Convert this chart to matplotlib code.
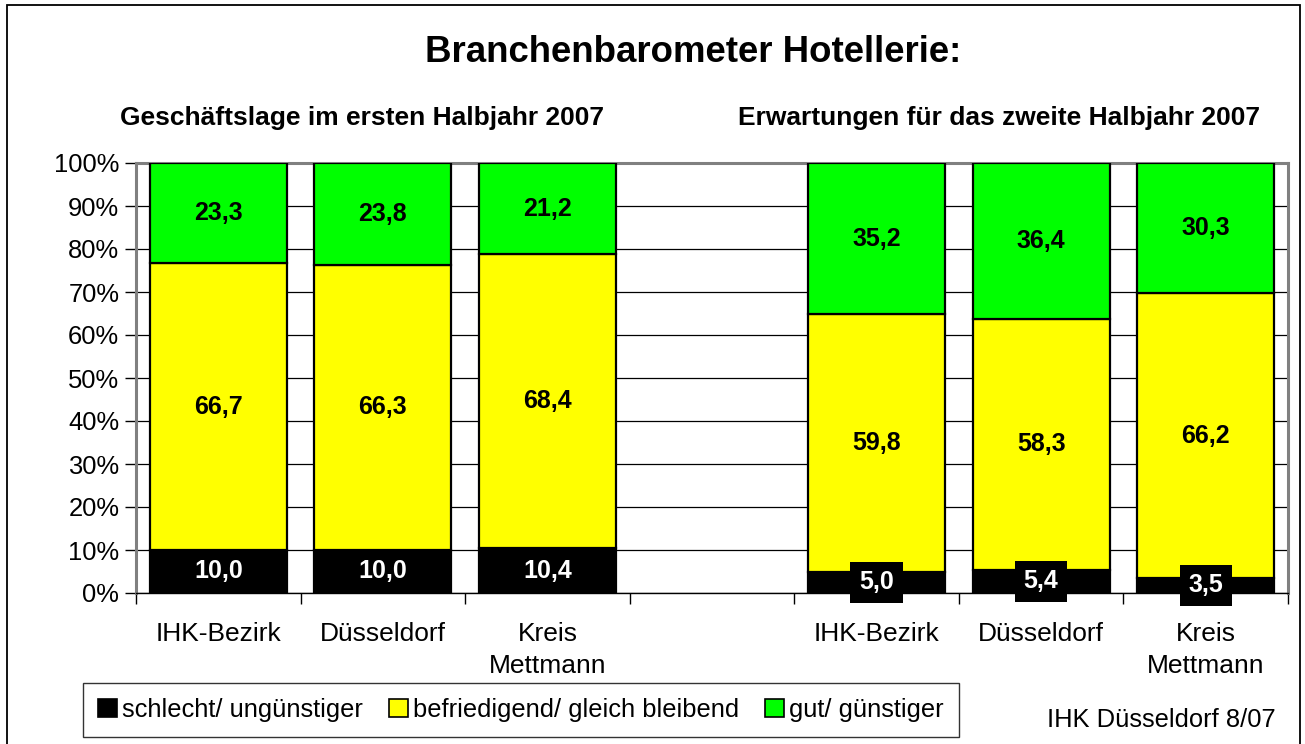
import matplotlib.pyplot as plt
from matplotlib.patches import Patch, Rectangle
from matplotlib.transforms import blended_transform_factory

plt.rcParams['font.family'] = ['Liberation Sans', 'DejaVu Sans']

# data (percent)
categories = ["IHK-Bezirk", "Düsseldorf", "Kreis\nMettmann",
              "IHK-Bezirk", "Düsseldorf", "Kreis\nMettmann"]
positions = [0, 1, 2, 4, 5, 6]
schlecht = [10.0, 10.0, 10.4, 5.0, 5.4, 3.5]
befriedigend = [66.7, 66.3, 68.4, 59.8, 58.3, 66.2]
gut = [23.3, 23.8, 21.2, 35.2, 36.4, 30.3]
series_names = ["schlecht/ ungünstiger", "befriedigend/ gleich bleibend", "gut/ günstiger"]
colors = ["#000000", "#FFFF00", "#00FF00"]
yticks = list(range(0, 101, 10))

W, H = 1305, 744
fig = plt.figure(figsize=(W / 100, H / 100), dpi=100)


def fx(x):
    return x / W


def fy(y):
    return 1 - y / H


ax = fig.add_axes([fx(136), fy(593), fx(1288) - fx(136), fy(163) - fy(593)])

bar_w = 0.833
bottoms = [0] * len(positions)
for vals, col in zip([schlecht, befriedigend, gut], colors):
    ax.bar(positions, vals, width=bar_w, bottom=bottoms, color=col,
           edgecolor="black", linewidth=1.6, zorder=3)
    for p, v, b in zip(positions, vals, bottoms):
        label = f"{v:.1f}".replace(".", ",")
        if col == "#000000":
            ax.text(p, b + v / 2, label, ha="center", va="center", fontsize=18,
                    fontweight="bold", color="white", zorder=5,
                    bbox=dict(boxstyle="square,pad=0.35", fc="black", ec="none"))
        else:
            ax.text(p, b + v / 2, label, ha="center", va="center", fontsize=18,
                    fontweight="bold", color="black", zorder=5)
    bottoms = [b + v for b, v in zip(bottoms, vals)]

ax.set_xlim(-0.5, 6.5)
ax.set_ylim(0, 100)
ax.set_yticks(yticks)
ax.set_yticklabels([f"{t}%" for t in yticks], fontsize=18.4)
ax.set_xticks([i - 0.5 for i in range(8)])
ax.set_xticklabels([])
ax.tick_params(axis="both", direction="out", length=8, width=1, color="black")
ax.tick_params(axis="y", pad=4)
ax.yaxis.grid(True, color="black", linewidth=0.9, zorder=0)
ax.set_axisbelow(True)
for s in ["left", "top", "right"]:
    ax.spines[s].set_color("#808080")
    ax.spines[s].set_linewidth(2.2)
ax.spines["bottom"].set_color("black")
ax.spines["bottom"].set_linewidth(1)

trans = blended_transform_factory(ax.transData, ax.transAxes)
for p, c in zip(positions, categories):
    ax.text(p, -0.068, c, transform=trans, ha="center", va="top",
            fontsize=19, linespacing=1.4)

fig.text(fx(693), fy(52), "Branchenbarometer Hotellerie:", ha="center",
         va="center", fontsize=26.4, fontweight="bold")
fig.text(fx(362), fy(118), "Geschäftslage im ersten Halbjahr 2007", ha="center",
         va="center", fontsize=19, fontweight="bold")
fig.text(fx(999), fy(118), "Erwartungen für das zweite Halbjahr 2007", ha="center",
         va="center", fontsize=19, fontweight="bold")
fig.text(fx(1276), fy(720), "IHK Düsseldorf 8/07", ha="right", va="center",
         fontsize=18.4)

handles = [Patch(facecolor=c, edgecolor="black", linewidth=1.2) for c in colors]
leg = fig.legend(handles, series_names, loc="center", bbox_to_anchor=(fx(521), fy(710)),
                 ncol=3, fontsize=18.4, frameon=True, fancybox=False,
                 handlelength=0.75, handleheight=0.75, handletextpad=0.2,
                 columnspacing=1.0, borderpad=0.6, borderaxespad=0)
leg.get_frame().set_edgecolor("black")
leg.get_frame().set_linewidth(1)

fig.patches.append(Rectangle((fx(7), -0.01), fx(1300) - fx(7), fy(5) + 0.01,
                             transform=fig.transFigure, fill=False,
                             edgecolor="black", linewidth=1.3))

fig.savefig("out.png", dpi=100)
